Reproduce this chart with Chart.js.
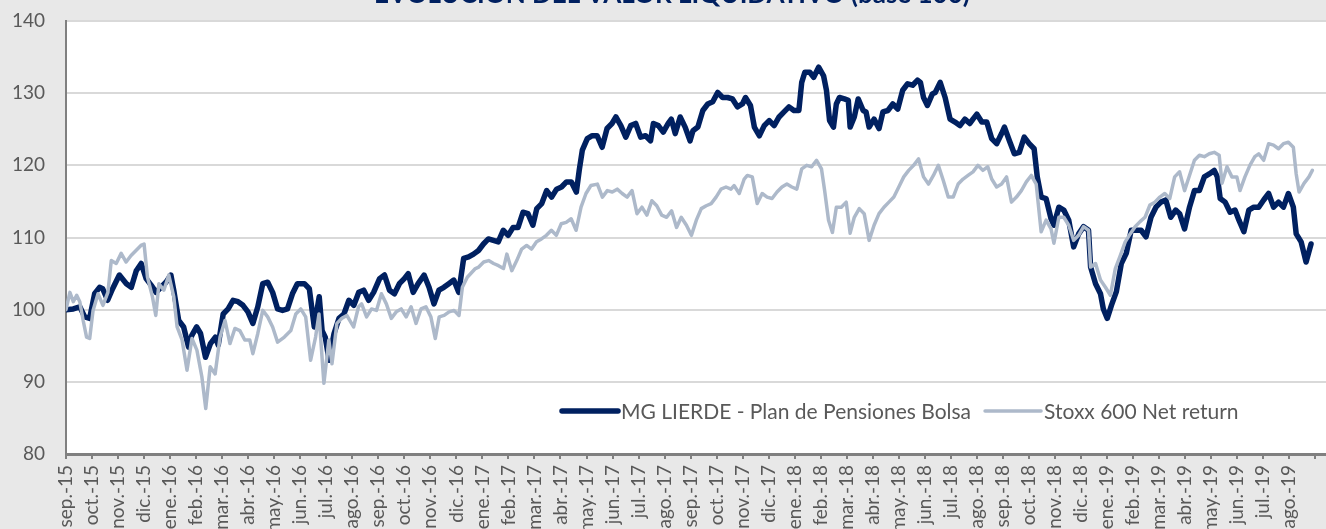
<!DOCTYPE html>
<html lang="es">
<head>
    <meta charset="UTF-8">
    <title>Evolución del valor liquidativo</title>
    <script src="https://cdn.jsdelivr.net/npm/chart.js"></script>
    <style>
        html, body {
            margin: 0;
            padding: 0;
            width: 1326px;
            height: 529px;
            overflow: hidden;
            background-color: #e8e8e8;
        }
        #chart {
            position: absolute;
            left: 0;
            top: -25px;
        }
    </style>
</head>
<body>
    <canvas id="chart" width="1344" height="575"></canvas>

    <script>
        // Month labels on the x axis (one tick per month, index 0 = sep.-15)
        const monthLabels = [
            'sep.-15', 'oct.-15', 'nov.-15', 'dic.-15',
            'ene.-16', 'feb.-16', 'mar.-16', 'abr.-16', 'may.-16', 'jun.-16',
            'jul.-16', 'ago.-16', 'sep.-16', 'oct.-16', 'nov.-16', 'dic.-16',
            'ene.-17', 'feb.-17', 'mar.-17', 'abr.-17', 'may.-17', 'jun.-17',
            'jul.-17', 'ago.-17', 'sep.-17', 'oct.-17', 'nov.-17', 'dic.-17',
            'ene.-18', 'feb.-18', 'mar.-18', 'abr.-18', 'may.-18', 'jun.-18',
            'jul.-18', 'ago.-18', 'sep.-18', 'oct.-18', 'nov.-18', 'dic.-18',
            'ene.-19', 'feb.-19', 'mar.-19', 'abr.-19', 'may.-19', 'jun.-19',
            'jul.-19', 'ago.-19'
        ];

        // Y axis ticks
        const yTicks = [80, 90, 100, 110, 120, 130, 140];

        // MG LIERDE - Plan de Pensiones Bolsa (time in months since sep.-15)
        const mgMonths = [
            0, 0.28, 0.53, 0.72, 0.91, 1.10, 1.29, 1.41, 1.60, 1.79,
            2.05, 2.32, 2.51, 2.70, 2.89, 3.08, 3.27, 3.46, 3.65, 3.84,
            4.03, 4.14, 4.33, 4.52, 4.71, 4.83, 5.02, 5.17, 5.36, 5.55,
            5.74, 5.85, 6.04, 6.23, 6.42, 6.61, 6.80, 6.99, 7.18, 7.37,
            7.56, 7.75, 7.94, 8.13, 8.32, 8.51, 8.70, 8.89, 9.16, 9.35,
            9.54, 9.73, 9.84, 9.96, 10.11, 10.30, 10.49, 10.68, 10.87, 11.06,
            11.25, 11.44, 11.63, 11.82, 12.05, 12.24, 12.43, 12.62, 12.81, 13.00,
            13.15, 13.34, 13.53, 13.76, 13.95, 14.14, 14.33, 14.52, 14.71, 14.90,
            15.09, 15.28, 15.47, 15.66, 15.85, 16.04, 16.23, 16.42, 16.61, 16.80,
            16.99, 17.18, 17.37, 17.56, 17.75, 17.94, 18.09, 18.28, 18.47, 18.66,
            18.85, 19.04, 19.23, 19.42, 19.61, 19.72, 19.84, 20.03, 20.22, 20.41,
            20.60, 20.79, 20.98, 21.13, 21.32, 21.51, 21.70, 21.89, 22.08, 22.27,
            22.46, 22.57, 22.76, 22.95, 23.14, 23.26, 23.41, 23.60, 23.79, 23.98,
            24.09, 24.28, 24.47, 24.66, 24.85, 25.04, 25.23, 25.42, 25.61, 25.80,
            25.99, 26.11, 26.30, 26.45, 26.64, 26.83, 27.02, 27.21, 27.40, 27.59,
            27.78, 27.97, 28.16, 28.27, 28.39, 28.58, 28.73, 28.92, 29.11, 29.22,
            29.34, 29.49, 29.60, 29.72, 29.91, 30.06, 30.13, 30.29, 30.44, 30.63,
            30.74, 30.86, 31.05, 31.24, 31.39, 31.58, 31.77, 31.96, 32.15, 32.34,
            32.53, 32.72, 32.83, 32.95, 33.10, 33.29, 33.40, 33.59, 33.78, 33.97,
            34.16, 34.35, 34.54, 34.73, 34.85, 35.00, 35.19, 35.38, 35.57, 35.76,
            35.95, 36.06, 36.25, 36.44, 36.63, 36.82, 37.01, 37.20, 37.32, 37.47,
            37.66, 37.85, 37.96, 38.15, 38.34, 38.53, 38.72, 38.91, 39.10, 39.29,
            39.37, 39.56, 39.75, 39.86, 40.01, 40.17, 40.36, 40.55, 40.74, 40.93,
            41.12, 41.31, 41.50, 41.69, 41.88, 42.07, 42.26, 42.45, 42.64, 42.79,
            42.98, 43.17, 43.36, 43.55, 43.74, 43.93, 44.12, 44.24, 44.35, 44.54,
            44.73, 44.92, 45.07, 45.26, 45.45, 45.64, 45.83, 46.02, 46.21, 46.40,
            46.59, 46.78, 46.97, 47.16, 47.27, 47.46, 47.65, 47.84
        ];
        const mgValues = [
            100, 100.1, 100.4, 99.0, 98.8, 102.2, 103.1, 102.9, 101.3, 102.9,
            104.8, 103.6, 103.1, 105.4, 106.4, 104.3, 103.4, 102.4, 103.1, 103.8,
            104.8, 102.7, 98.5, 97.6, 94.8, 96.4, 97.6, 96.7, 93.4, 95.3,
            96.2, 95.1, 99.4, 100.1, 101.3, 101.1, 100.6, 99.7, 98.1, 100.4,
            103.6, 103.8, 102.4, 100.1, 99.9, 100.1, 102.2, 103.6, 103.6, 102.9,
            97.6, 101.8, 97.1, 96.2, 93.0, 96.7, 98.8, 99.4, 101.3, 100.6,
            102.4, 102.7, 101.3, 102.4, 104.3, 104.8, 102.7, 102.2, 103.6, 104.3,
            105.0, 102.4, 103.6, 104.8, 103.1, 100.8, 102.7, 103.1, 103.6, 104.1,
            102.4, 107.1, 107.3, 107.7, 108.2, 109.1, 109.8, 109.6, 109.4, 111.0,
            110.3, 111.4, 111.4, 113.5, 113.3, 111.7, 114.0, 114.7, 116.5, 115.6,
            116.7, 117.0, 117.7, 117.7, 116.3, 119.3, 122.1, 123.7, 124.1, 124.1,
            122.5, 125.1, 125.8, 126.7, 125.5, 123.9, 125.5, 125.8, 123.9, 124.1,
            123.4, 125.8, 125.5, 124.6, 125.8, 126.4, 124.4, 126.7, 125.3, 123.4,
            124.8, 125.3, 127.6, 128.5, 128.8, 130.1, 129.4, 129.4, 129.2, 128.1,
            128.5, 129.4, 128.3, 125.3, 124.1, 125.5, 126.2, 125.5, 126.7, 127.4,
            128.1, 127.6, 127.6, 131.5, 132.9, 132.9, 132.2, 133.6, 132.4, 130.4,
            126.2, 125.3, 128.5, 129.4, 129.2, 129.0, 125.3, 126.7, 129.2, 127.6,
            127.4, 125.3, 126.4, 125.1, 127.4, 127.6, 128.5, 127.8, 130.4, 131.3,
            131.1, 131.8, 131.5, 129.4, 128.3, 129.9, 130.1, 131.5, 129.4, 126.4,
            126.0, 125.5, 126.4, 125.8, 126.4, 127.1, 126.0, 126.0, 123.7, 123.0,
            124.4, 125.3, 123.4, 121.6, 121.8, 123.9, 123.0, 122.3, 118.4, 115.6,
            115.4, 112.6, 111.7, 114.2, 113.8, 112.4, 108.7, 110.5, 111.5, 111.0,
            105.9, 103.6, 102.2, 100.1, 98.8, 100.6, 102.5, 106.4, 107.8, 111.0,
            111.0, 111.0, 110.1, 112.8, 114.2, 114.9, 115.2, 112.8, 113.8, 113.3,
            111.2, 114.2, 116.5, 116.5, 118.4, 118.8, 119.3, 118.4, 115.4, 114.9,
            113.5, 113.8, 112.4, 110.8, 113.8, 114.2, 114.2, 115.2, 116.1, 114.2,
            114.9, 114.2, 116.1, 114.2, 110.5, 109.4, 106.6, 109.1
        ];

        // Stoxx 600 Net return
        const stoxxMonths = [
            0, 0.15, 0.28, 0.41, 0.53, 0.66, 0.79, 0.91, 1.04, 1.23,
            1.42, 1.61, 1.74, 1.93, 2.12, 2.31, 2.50, 2.69, 2.88, 3.00,
            3.13, 3.32, 3.45, 3.57, 3.76, 3.95, 4.14, 4.27, 4.46, 4.65,
            4.84, 5.03, 5.22, 5.37, 5.54, 5.73, 5.92, 6.11, 6.30, 6.49,
            6.68, 6.87, 7.06, 7.18, 7.37, 7.56, 7.75, 7.94, 8.13, 8.39,
            8.64, 8.83, 9.02, 9.21, 9.40, 9.59, 9.72, 9.91, 10.10, 10.22,
            10.41, 10.60, 10.79, 11.05, 11.24, 11.36, 11.55, 11.74, 11.93, 12.12,
            12.31, 12.50, 12.69, 12.88, 13.07, 13.26, 13.45, 13.64, 13.83, 14.02,
            14.19, 14.34, 14.53, 14.72, 14.91, 15.10, 15.23, 15.42, 15.73, 15.86,
            16.05, 16.24, 16.43, 16.62, 16.81, 16.94, 17.13, 17.32, 17.51, 17.70,
            17.89, 18.08, 18.27, 18.46, 18.65, 18.84, 19.03, 19.22, 19.41, 19.60,
            19.79, 19.98, 20.17, 20.42, 20.61, 20.80, 20.99, 21.18, 21.37, 21.56,
            21.75, 21.94, 22.13, 22.32, 22.51, 22.70, 22.89, 23.08, 23.27, 23.46,
            23.64, 23.84, 24.03, 24.22, 24.41, 24.60, 24.79, 24.98, 25.17, 25.36,
            25.55, 25.67, 25.87, 26.06, 26.18, 26.37, 26.56, 26.75, 26.94, 27.13,
            27.32, 27.51, 27.70, 27.89, 28.08, 28.27, 28.46, 28.65, 28.84, 29.03,
            29.15, 29.30, 29.45, 29.60, 29.79, 29.98, 30.13, 30.29, 30.48, 30.67,
            30.86, 31.05, 31.24, 31.43, 31.62, 31.81, 32.00, 32.19, 32.38, 32.57,
            32.76, 32.95, 33.14, 33.33, 33.52, 33.71, 33.90, 34.09, 34.28, 34.47,
            34.66, 34.85, 35.04, 35.23, 35.42, 35.57, 35.76, 35.95, 36.14, 36.33,
            36.52, 36.71, 36.90, 37.09, 37.28, 37.47, 37.66, 37.85, 37.96, 38.15,
            38.34, 38.53, 38.72, 38.91, 39.10, 39.29, 39.37, 39.56, 39.75, 39.94,
            40.13, 40.32, 40.51, 40.70, 40.89, 41.08, 41.27, 41.46, 41.65, 41.84,
            42.03, 42.22, 42.41, 42.60, 42.79, 42.98, 43.17, 43.36, 43.55, 43.74,
            43.93, 44.12, 44.31, 44.42, 44.61, 44.80, 44.99, 45.11, 45.30, 45.49,
            45.68, 45.83, 46.02, 46.21, 46.40, 46.59, 46.78, 46.97, 47.16, 47.27,
            47.38, 47.57, 47.76, 47.89
        ];
        const stoxxValues = [
            100.0, 102.4, 101.1, 102.0, 101.1, 98.5, 96.2, 96.0, 99.9, 102.2,
            100.6, 102.4, 106.8, 106.4, 107.8, 106.6, 107.5, 108.2, 108.9, 109.1,
            104.5, 101.8, 99.2, 103.6, 102.7, 104.8, 101.8, 97.6, 95.8, 91.6,
            96.0, 94.4, 90.7, 86.3, 92.1, 91.1, 96.2, 98.5, 95.3, 97.4,
            97.1, 95.8, 95.8, 93.9, 96.7, 99.9, 99.0, 97.6, 95.5, 96.2,
            97.1, 99.4, 100.1, 99.0, 93.0, 96.2, 99.4, 89.8, 95.8, 92.5,
            98.1, 98.8, 99.2, 97.6, 100.4, 100.8, 99.0, 100.1, 99.9, 102.2,
            100.8, 98.8, 99.7, 100.1, 99.0, 100.4, 98.1, 100.1, 100.4, 99.0,
            96.0, 99.0, 99.2, 99.7, 99.9, 99.2, 103.1, 104.5, 105.7, 105.9,
            106.6, 106.8, 106.4, 106.1, 105.7, 107.7, 105.4, 106.8, 108.4, 108.9,
            108.4, 109.4, 109.8, 110.3, 111.0, 110.3, 111.9, 112.1, 112.6, 111.0,
            114.2, 116.1, 117.2, 117.4, 115.6, 116.5, 116.3, 116.7, 116.1, 115.6,
            116.5, 113.3, 114.2, 113.1, 115.1, 114.4, 113.1, 112.8, 113.7, 111.4,
            112.8, 111.7, 110.3, 112.4, 114.0, 114.4, 114.7, 115.6, 116.7, 117.0,
            116.7, 117.2, 116.1, 118.1, 118.6, 118.4, 114.7, 116.1, 115.6, 115.4,
            116.3, 117.0, 117.4, 117.0, 116.7, 119.5, 120.0, 119.8, 120.7, 119.5,
            116.5, 112.4, 110.7, 114.2, 114.2, 114.9, 110.6, 112.8, 114.0, 113.3,
            109.6, 111.7, 113.3, 114.2, 114.9, 115.6, 117.0, 118.4, 119.3, 120.0,
            120.9, 118.4, 117.4, 118.6, 120.0, 117.9, 115.6, 115.6, 117.4, 118.1,
            118.6, 119.1, 120.0, 119.3, 119.8, 118.1, 117.0, 117.4, 118.4, 114.9,
            115.6, 116.5, 117.7, 118.6, 117.4, 110.8, 112.4, 111.2, 109.2, 112.8,
            112.8, 111.7, 109.6, 110.3, 111.5, 111.0, 105.9, 106.4, 104.1, 103.1,
            102.0, 105.7, 107.5, 109.4, 110.5, 111.5, 112.2, 112.8, 114.5, 114.9,
            115.6, 116.1, 115.4, 118.4, 119.1, 116.5, 118.6, 120.7, 121.4, 121.2,
            121.6, 121.8, 121.4, 117.5, 119.8, 118.4, 118.4, 116.5, 118.4, 120.0,
            121.2, 121.6, 120.7, 123.0, 122.8, 122.3, 123.0, 123.2, 122.5, 118.8,
            116.3, 117.5, 118.4, 119.3
        ];

        const navy = '#002060';
        const steel = '#adb9ca';
        const axisGrey = '#808080';
        const textGrey = '#595959';

        Chart.defaults.font.family = "Lato, 'Open Sans', sans-serif";

        // white plot area on the grey page
        const plotBackground = {
            id: 'plotBackground',
            beforeDraw(chart) {
                const { ctx, chartArea: a } = chart;
                ctx.save();
                ctx.fillStyle = '#ffffff';
                ctx.fillRect(a.left, a.top, a.right - a.left, a.bottom - a.top);
                ctx.restore();
            }
        };

        // legend sitting inside the plot area, near the bottom
        const insideLegend = {
            id: 'insideLegend',
            afterDraw(chart) {
                const { ctx, chartArea: a } = chart;
                const sample = 56;
                let x = 562;
                const y = a.top + 390;
                ctx.save();
                ctx.font = '21px Lato';
                ctx.textBaseline = 'middle';
                chart.data.datasets.forEach(ds => {
                    ctx.strokeStyle = ds.borderColor;
                    ctx.lineWidth = ds.borderWidth;
                    ctx.lineCap = 'round';
                    ctx.beginPath();
                    ctx.moveTo(x, y);
                    ctx.lineTo(x + sample, y);
                    ctx.stroke();
                    x += sample + 3;
                    ctx.fillStyle = textGrey;
                    ctx.fillText(ds.label, x, y + 1);
                    x += ctx.measureText(ds.label).width + 14;
                });
                ctx.restore();
            }
        };

        new Chart(document.getElementById('chart'), {
            type: 'line',
            data: {
                datasets: [{
                    label: 'MG LIERDE - Plan de Pensiones Bolsa',
                    data: mgMonths.map((m, i) => ({ x: m, y: mgValues[i] })),
                    borderColor: navy,
                    borderWidth: 5.5,
                    order: 1
                }, {
                    label: 'Stoxx 600 Net return',
                    data: stoxxMonths.map((m, i) => ({ x: m, y: stoxxValues[i] })),
                    borderColor: steel,
                    borderWidth: 3.5,
                    order: 0
                }]
            },
            options: {
                responsive: false,
                animation: false,
                layout: { padding: 0 },
                elements: {
                    point: { radius: 0 },
                    line: { tension: 0, borderJoinStyle: 'round', borderCapStyle: 'round', fill: false }
                },
                scales: {
                    x: {
                        type: 'linear',
                        min: 0,
                        max: 48.6,
                        afterFit(scale) { scale.height = 96; },
                        border: { color: axisGrey, width: 3 },
                        grid: { drawOnChartArea: false, drawTicks: true, tickLength: 5, color: axisGrey, lineWidth: 2 },
                        ticks: {
                            stepSize: 1,
                            includeBounds: false,
                            autoSkip: false,
                            maxTicksLimit: 100,
                            minRotation: 90,
                            maxRotation: 90,
                            padding: 6,
                            color: textGrey,
                            font: { size: 19 },
                            callback: v => monthLabels[v] || ''
                        }
                    },
                    y: {
                        min: yTicks[0],
                        max: yTicks[yTicks.length - 1],
                        afterFit(scale) { scale.width = 66; },
                        afterBuildTicks(scale) { scale.ticks = yTicks.map(v => ({ value: v })); },
                        border: { color: axisGrey, width: 2 },
                        grid: { color: '#d9d9d9', lineWidth: 2, drawTicks: false },
                        ticks: { padding: 21, color: textGrey, font: { size: 19 } }
                    }
                },
                plugins: {
                    legend: { display: false },
                    tooltip: { enabled: false },
                    title: {
                        display: true,
                        text: 'EVOLUCIÓN DEL VALOR LIQUIDATIVO (base 100)',
                        color: navy,
                        font: { size: 26, weight: 'bold' },
                        padding: { top: 4.2, bottom: 10.6 }
                    }
                }
            },
            plugins: [plotBackground, insideLegend]
        });
    </script>
</body>
</html>
